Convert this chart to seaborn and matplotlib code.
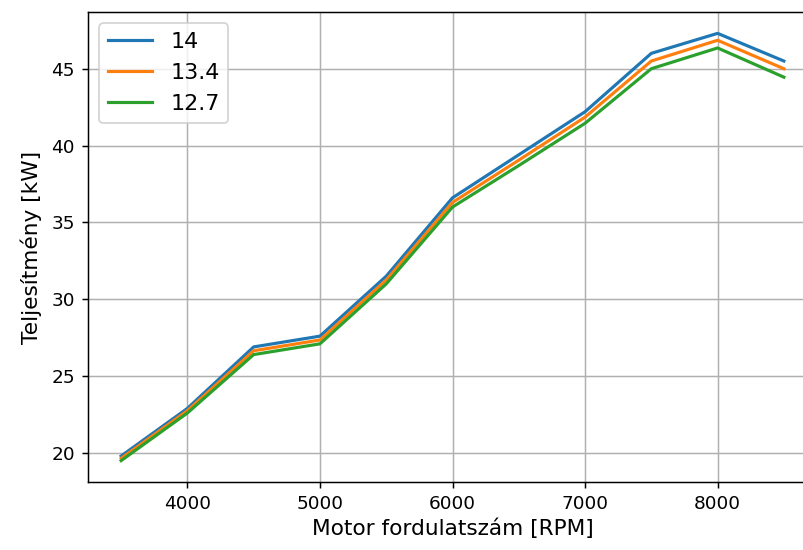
import matplotlib
matplotlib.use("Agg")
import matplotlib.pyplot as plt
import seaborn as sns
import pandas as pd

# Engine speed and power curves for three settings
rpm = [3500, 4000, 4500, 5000, 5500, 6000, 6500, 7000, 7500, 8000, 8500]
series_labels = ["14", "13.4", "12.7"]
power_14 = [19.8, 22.9, 26.9, 27.6, 31.5, 36.6, 39.4, 42.2, 46.0, 47.3, 45.5]
power_13_4 = [19.65, 22.75, 26.65, 27.35, 31.25, 36.3, 39.05, 41.85, 45.5, 46.85, 45.0]
power_12_7 = [19.5, 22.6, 26.4, 27.1, 31.0, 36.0, 38.7, 41.45, 45.0, 46.35, 44.45]

frames = []
for label, vals in zip(series_labels, [power_14, power_13_4, power_12_7]):
    frames.append(pd.DataFrame({"rpm": rpm, "power": vals, "series": label}))
df = pd.concat(frames, ignore_index=True)

dpi = 133.3
fig = plt.figure(figsize=(803 / dpi, 550 / dpi), dpi=dpi)
ax = fig.add_axes([88 / 803, 68 / 550, 729 / 803, 470 / 550])

palette = {"14": "#1f77b4", "13.4": "#ff7f0e", "12.7": "#2ca02c"}
sns.lineplot(data=df, x="rpm", y="power", hue="series", hue_order=series_labels,
             palette=palette, ax=ax, linewidth=1.7)

ax.grid(True)
ax.set_xlabel("Motor fordulatszám [RPM]", fontsize=11.7, labelpad=3)
ax.set_ylabel("Teljesítmény [kW]", fontsize=11.7, labelpad=5)
sns.move_legend(ax, "upper left", title=None, fontsize=12)

fig.savefig("out.png", dpi=dpi)
